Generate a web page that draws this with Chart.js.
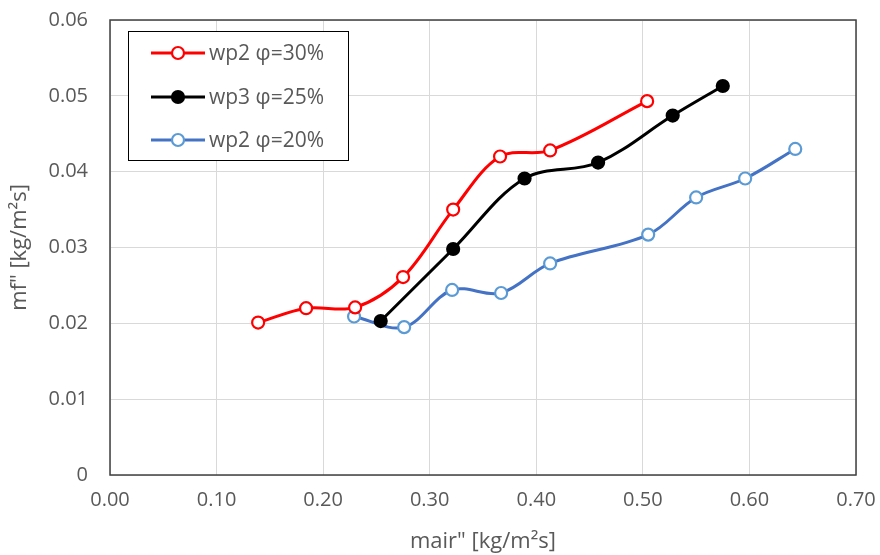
<!DOCTYPE html>
<html>
<head>
<meta charset="utf-8">
<script src="https://cdn.jsdelivr.net/npm/chart.js@4/dist/chart.umd.min.js"></script>
<style>
  html, body { margin: 0; padding: 0; background: #fff; }
  #wrap { width: 880px; height: 555px; }
</style>
</head>
<body>
<div id="wrap"><canvas id="c" width="880" height="555"></canvas></div>
<script>
// ---- data ----
const seriesNames = ["wp2 φ=30%", "wp3 φ=25%", "wp2 φ=20%"];
const red_x   = [0.139, 0.184, 0.230, 0.275, 0.322, 0.366, 0.413, 0.504];
const red_y   = [0.0201, 0.0220, 0.0221, 0.0261, 0.0350, 0.0420, 0.0428, 0.0493];
const black_x = [0.254, 0.322, 0.389, 0.458, 0.528, 0.575];
const black_y = [0.0203, 0.0298, 0.0391, 0.0412, 0.0474, 0.0513];
const blue_x  = [0.229, 0.276, 0.321, 0.367, 0.413, 0.505, 0.550, 0.596, 0.643];
const blue_y  = [0.0209, 0.0195, 0.0244, 0.0240, 0.0279, 0.0317, 0.0366, 0.0391, 0.0430];
const xTicks = [0.00, 0.10, 0.20, 0.30, 0.40, 0.50, 0.60, 0.70];
const yTicks = [0, 0.01, 0.02, 0.03, 0.04, 0.05, 0.06];
const xTitle = "mair\" [kg/m²s]";
const yTitle = "mf\" [kg/m²s]";

const pts = (xs, ys) => xs.map((x, i) => ({ x: x, y: ys[i] }));
const FONT = "'Open Sans', 'Noto Sans', sans-serif";
const TXT = "#595959";

const datasets = [
  { label: seriesNames[0], data: pts(red_x, red_y), borderColor: "#ff0000", backgroundColor: "#ffffff",
    pointBorderColor: "#ff0000", pointBackgroundColor: "#ffffff" },
  { label: seriesNames[1], data: pts(black_x, black_y), borderColor: "#000000", backgroundColor: "#000000",
    pointBorderColor: "#000000", pointBackgroundColor: "#000000" },
  { label: seriesNames[2], data: pts(blue_x, blue_y), borderColor: "#4472c4", backgroundColor: "#ffffff",
    pointBorderColor: "#5b9bd5", pointBackgroundColor: "#ffffff" }
].map(d => Object.assign(d, {
  showLine: true, borderWidth: 3, tension: 0.35, cubicInterpolationMode: "default",
  pointRadius: 6, pointHoverRadius: 6, pointBorderWidth: 2.2, fill: false
}));

const frameAndLegend = {
  id: "frameAndLegend",
  afterDraw(chart) {
    const ctx = chart.ctx, a = chart.chartArea;
    ctx.save();
    ctx.strokeStyle = "#404040";
    ctx.lineWidth = 1.5;
    ctx.strokeRect(a.left, a.top, a.right - a.left, a.bottom - a.top);
    // legend box
    const bx = 128, by = 31, bw = 220, bh = 129;
    ctx.fillStyle = "#fff";
    ctx.fillRect(bx, by, bw, bh);
    ctx.strokeStyle = "#000";
    ctx.lineWidth = 1;
    ctx.strokeRect(bx + 0.5, by + 0.5, bw, bh);
    const rows = [53, 97, 140];
    chart.data.datasets.forEach((ds, i) => {
      const y = rows[i];
      ctx.strokeStyle = ds.borderColor;
      ctx.lineWidth = 3;
      ctx.beginPath(); ctx.moveTo(151, y); ctx.lineTo(205, y); ctx.stroke();
      ctx.beginPath(); ctx.arc(178, y, 6, 0, Math.PI * 2);
      ctx.fillStyle = ds.pointBackgroundColor; ctx.fill();
      ctx.lineWidth = 2.2; ctx.strokeStyle = ds.pointBorderColor; ctx.stroke();
      ctx.fillStyle = TXT;
      ctx.font = "21px " + FONT;
      ctx.textBaseline = "middle";
      ctx.textAlign = "left";
      ctx.fillText(ds.label, 209, y + 1);
    });
    ctx.restore();
  }
};

const zeroPad = s => { s.paddingTop = 0; s.paddingBottom = 0; s.paddingLeft = 0; s.paddingRight = 0; };

new Chart(document.getElementById("c"), {
  type: "scatter",
  data: { datasets },
  plugins: [frameAndLegend],
  options: {
    responsive: false,
    animation: false,
    devicePixelRatio: 1,
    layout: { padding: { left: 0, right: 24, top: 20, bottom: 0 } },
    plugins: { legend: { display: false }, tooltip: { enabled: false } },
    scales: {
      x: {
        type: "linear", min: 0, max: 0.7,
        afterBuildTicks: s => { s.ticks = xTicks.map(v => ({ value: v })); },
        afterFit: s => { s.height = 80; zeroPad(s); },
        ticks: { color: TXT, font: { family: FONT, size: 20 }, padding: 13,
                 callback: v => Number(v).toFixed(2) },
        grid: { color: "#d9d9d9", lineWidth: 1, drawTicks: false },
        border: { display: false },
        title: { display: true, text: xTitle, color: TXT, font: { family: FONT, size: 22 }, padding: { top: 0, bottom: 0 } }
      },
      y: {
        type: "linear", min: 0, max: 0.06,
        afterBuildTicks: s => { s.ticks = yTicks.map(v => ({ value: v })); },
        afterFit: s => { s.width = 110; zeroPad(s); },
        ticks: { color: TXT, font: { family: FONT, size: 20 }, padding: 22,
                 callback: v => (v === 0 ? "0" : Number(v).toFixed(2)) },
        grid: { color: "#d9d9d9", lineWidth: 1, drawTicks: false },
        border: { display: false },
        title: { display: true, text: yTitle, color: TXT, font: { family: FONT, size: 22 }, padding: { top: 7, bottom: 0 } }
      }
    }
  }
});
</script>
</body>
</html>
